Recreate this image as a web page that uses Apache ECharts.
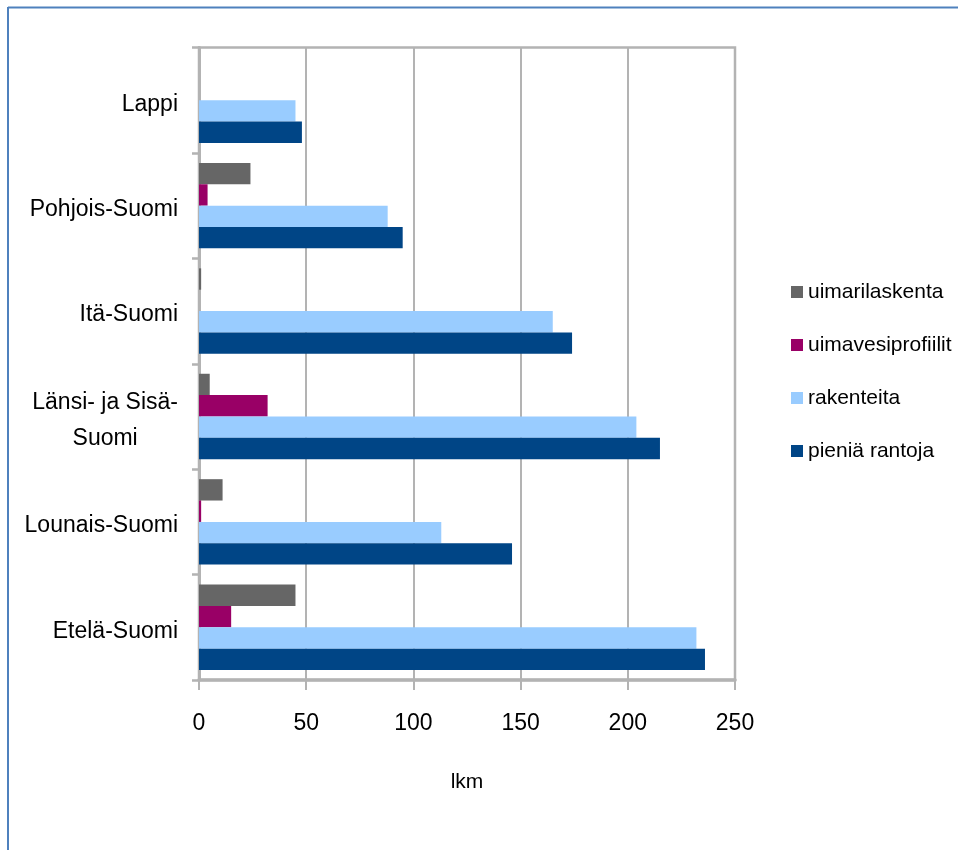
<!DOCTYPE html>
<html>
<head>
<meta charset="utf-8">
<script src="https://cdn.jsdelivr.net/npm/echarts@6/dist/echarts.min.js"></script>
<style>
html,body{margin:0;padding:0;background:#fff;}
#c{width:958px;height:850px;}
</style>
</head>
<body>
<div id="c"></div>
<script>
// Categories (bottom to top, as drawn on the category axis)
var categories = ['Etelä-Suomi', 'Lounais-Suomi', 'Länsi- ja Sisä-\nSuomi', 'Itä-Suomi', 'Pohjois-Suomi', 'Lappi'];
// Series values, same order as categories
var pieniaRantoja = [236, 146, 215, 174, 95, 48];
var rakenteita = [232, 113, 204, 165, 88, 45];
var uimavesiprofiilit = [15, 1, 32, 0, 4, 0];
var uimarilaskenta = [45, 11, 5, 1, 24, 0];
// Axis settings
var xMin = 0, xMax = 250, xStep = 50;
var xName = 'lkm';

var FONT = '"Liberation Sans Narrow", "Arial Narrow", "Liberation Sans", Arial, sans-serif';
var GRAY = '#b3b3b3';

var chart = echarts.init(document.getElementById('c'));
chart.setOption({
  animation: false,
  backgroundColor: '#ffffff',
  textStyle: { fontFamily: FONT },
  graphic: [
    { type: 'line', shape: { x1: 8, y1: 7.5, x2: 958, y2: 7.5 }, style: { stroke: '#4f81bd', lineWidth: 2 } },
    { type: 'line', shape: { x1: 8, y1: 7, x2: 8, y2: 850 }, style: { stroke: '#4f81bd', lineWidth: 2 } }
  ],
  grid: {
    left: 199, right: 223, top: 47.5, bottom: 170,
    show: true, borderColor: GRAY, borderWidth: 2.5, containLabel: false
  },
  legend: {
    orient: 'vertical',
    left: 786, top: 276,
    itemWidth: 12, itemHeight: 12, itemGap: 31,
    icon: 'rect',
    data: ['uimarilaskenta', 'uimavesiprofiilit', 'rakenteita', 'pieniä rantoja'],
    textStyle: { fontFamily: FONT, fontSize: 21, lineHeight: 22, color: '#000' }
  },
  xAxis: {
    type: 'value', min: xMin, max: xMax, interval: xStep,
    name: xName, nameLocation: 'middle', nameGap: 92,
    nameTextStyle: { fontFamily: FONT, fontSize: 21, color: '#000' },
    axisLine: { show: true, lineStyle: { color: GRAY, width: 3.5 } },
    axisTick: { show: true, length: 10, lineStyle: { color: GRAY, width: 2 } },
    axisLabel: { fontFamily: FONT, fontSize: 23, color: '#000', margin: 32 },
    splitLine: { show: true, lineStyle: { color: GRAY, width: 2 } }
  },
  yAxis: {
    type: 'category', data: categories,
    axisLine: { show: true, lineStyle: { color: GRAY, width: 3 } },
    axisTick: { show: true, length: 7, lineStyle: { color: GRAY, width: 2.5 } },
    axisLabel: {
      margin: 21, color: '#000', fontFamily: FONT, fontSize: 23,
      padding: [8, 0, 0, 0],
      formatter: function (v) {
        return v.split('\n').map(function (s) { return '{a|' + s + '}'; }).join('\n');
      },
      rich: { a: { fontFamily: FONT, fontSize: 23, lineHeight: 36, align: 'center', color: '#000' } }
    }
  },
  series: [
    { name: 'uimarilaskenta', type: 'bar', data: uimarilaskenta, barGap: '0%', barCategoryGap: '19%',
      itemStyle: { color: '#666666' } },
    { name: 'uimavesiprofiilit', type: 'bar', data: uimavesiprofiilit, barGap: '0%', barCategoryGap: '19%',
      itemStyle: { color: '#990066' } },
    { name: 'rakenteita', type: 'bar', data: rakenteita, barGap: '0%', barCategoryGap: '19%',
      itemStyle: { color: '#99ccff' } },
    { name: 'pieniä rantoja', type: 'bar', data: pieniaRantoja, barGap: '0%', barCategoryGap: '19%',
      itemStyle: { color: '#004586' } }
  ]
});
</script>
</body>
</html>
